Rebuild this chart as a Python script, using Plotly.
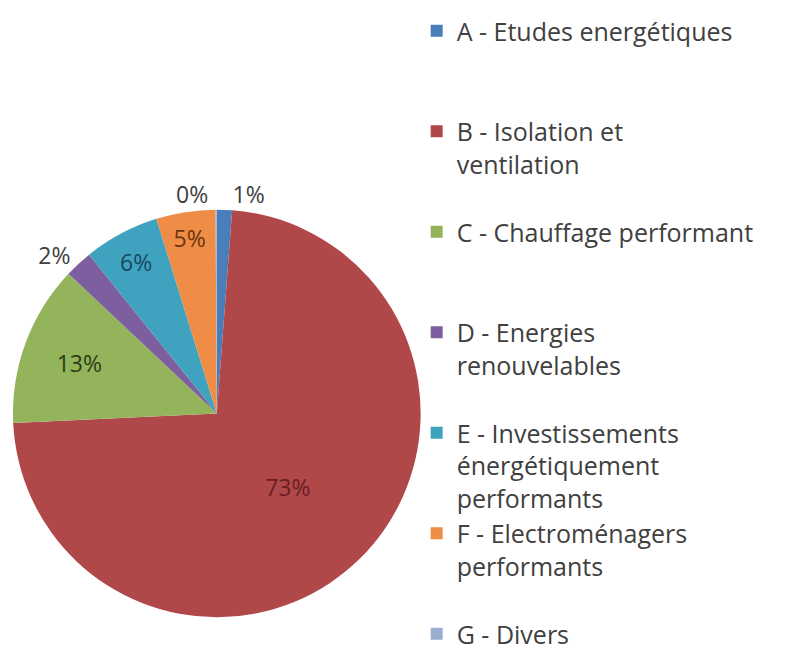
import plotly.graph_objects as go

categories = [
    "A - Etudes energétiques",
    "B - Isolation et<br>ventilation",
    "C - Chauffage performant",
    "D - Energies<br>renouvelables",
    "E - Investissements<br>énergétiquement<br>performants",
    "F - Electroménagers<br>performants",
    "G - Divers",
]
values = [1.2, 73.2, 12.8, 2.2, 6.0, 4.7, 0.1]
colors = ["#4a7ebb", "#b0484a", "#93b45a", "#7d5fa0", "#3fa3c0", "#ef8c45", "#9aaed2"]
label_colors = ["#404040", "#6a1e22", "#2e3d16", "#404040", "#17485e", "#6b3410", "#404040"]
text_positions = ["outside", "inside", "inside", "outside", "inside", "inside", "outside"]

# pad each legend entry to 3 lines so entries are evenly spaced
legend_names = []
for i, c in enumerate(categories):
    n = c.count("<br>") + 1
    pad = max(0, 3 - n) if i < len(categories) - 1 else 0
    legend_names.append(c + "<br>\u00a0" * pad)

fig = go.Figure(go.Pie(
    labels=legend_names,
    values=values,
    sort=False,
    direction="clockwise",
    rotation=0,
    marker=dict(colors=colors, line=dict(width=0)),
    texttemplate="%{percent:.0%}",
    textposition=text_positions,
    textfont=dict(family="Open Sans, sans-serif", size=23, color=label_colors),
    insidetextorientation="horizontal",
    hoverinfo="none",
    domain=dict(x=[0.0, 0.516], y=[0.058, 0.702]),
))

fig.update_layout(
    width=795,
    height=654,
    margin=dict(l=0, r=0, t=0, b=0),
    paper_bgcolor="white",
    plot_bgcolor="white",
    showlegend=True,
    legend=dict(
        x=0.511, y=1.0, xanchor="left", yanchor="top",
        valign="top",
        bgcolor="rgba(0,0,0,0)",
        font=dict(family="Open Sans, sans-serif", size=25, color="#404040"),
        itemclick=False,
        maxheight=1,
    ),
)

fig.write_html("out.html")
